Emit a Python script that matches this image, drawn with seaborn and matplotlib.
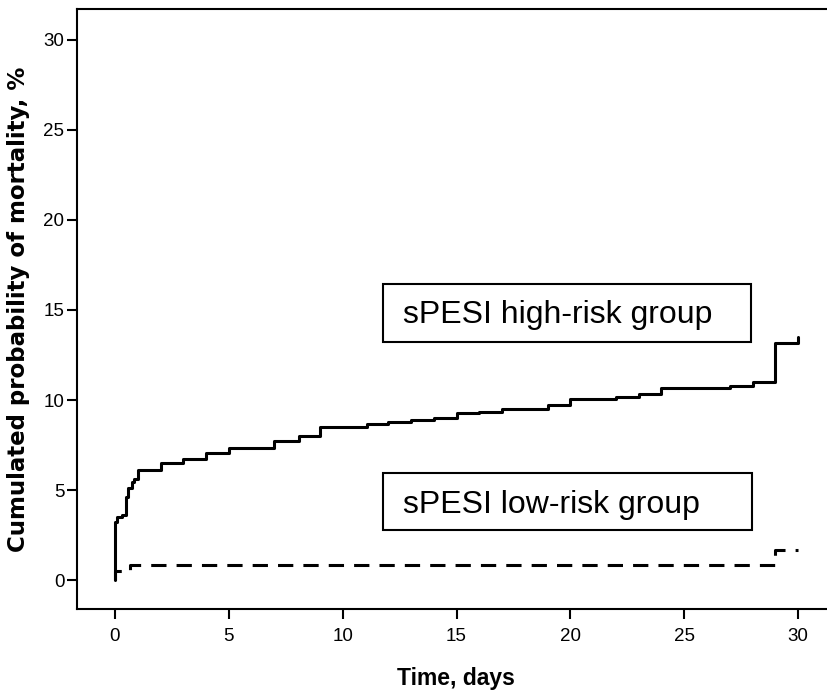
import seaborn as sns
import matplotlib.pyplot as plt
import pandas as pd

# Kaplan-Meier style cumulative mortality (%)
high_days = [0, 0, 0.07, 0.29, 0.48, 0.58, 0.73, 0.83, 1.0, 2.0, 3.0, 4.0, 5.0, 7.0, 8.1, 9.0,
             11.05, 12.0, 13.0, 14.0, 15.0, 16.0, 17.0, 19.0, 20.0, 22.0, 23.0, 24.0, 27.0,
             28.0, 29.0, 30.0, 30.0]
high_mort = [0, 3.24, 3.52, 3.61, 4.63, 5.09, 5.46, 5.61, 6.11, 6.48, 6.72, 7.07, 7.31, 7.74, 8.0,
             8.48, 8.65, 8.78, 8.9, 9.02, 9.26, 9.35, 9.5, 9.72, 10.05, 10.18, 10.33, 10.65,
             10.78, 11.02, 13.18, 13.18, 13.5]
low_days = [0, 0, 0.66, 29.0, 30.0]
low_mort = [0, 0.5, 0.83, 1.67, 1.67]

high_label = 'sPESI high-risk group'
low_label = 'sPESI low-risk group'
x_ticks = [0, 5, 10, 15, 20, 25, 30]
y_ticks = [0, 5, 10, 15, 20, 25, 30]

df = pd.concat([
    pd.DataFrame({'days': high_days, 'mort': high_mort, 'group': 'high'}),
    pd.DataFrame({'days': low_days, 'mort': low_mort, 'group': 'low'}),
])

sns.set_style('white')
plt.rcParams['font.family'] = ['Liberation Sans', 'DejaVu Sans']
plt.rcParams['text.color'] = 'black'
plt.rcParams['axes.labelcolor'] = 'black'

fig = plt.figure(figsize=(8.27, 6.93), dpi=100)
ax = fig.add_axes([0.0931, 0.1212, 0.9069, 0.8658])

sns.lineplot(data=df, x='days', y='mort', hue='group', style='group',
             palette={'high': 'black', 'low': 'black'},
             dashes={'high': '', 'low': (5, 3.3)},
             drawstyle='steps-post', sort=False, estimator=None,
             linewidth=2.2, legend=False, ax=ax)

ax.set_xlim(-1.669, 31.27)
ax.set_ylim(-1.61, 31.72)
ax.set_xticks(x_ticks)
ax.set_yticks(y_ticks)
ax.tick_params(axis='both', direction='out', length=7.5, width=1.5, color='black',
               labelsize=13.5, labelcolor='black', bottom=True, left=True)
ax.tick_params(axis='x', pad=6)
ax.tick_params(axis='y', pad=1.5)

for s in ['left', 'top', 'bottom']:
    ax.spines[s].set_visible(True)
    ax.spines[s].set_color('black')
    ax.spines[s].set_linewidth(1.5)
ax.spines['right'].set_visible(False)

ax.set_xlabel('Time, days', fontsize=16.5, fontweight='bold', va='top', color='black')
ax.xaxis.set_label_coords(0.505, -0.097)
ax.set_ylabel('Cumulated probability of mortality, %', fontsize=16.5, fontweight='bold',
              family='DejaVu Sans', color='black')
ax.yaxis.set_label_coords(-0.062, 0.5)

# group label boxes
for x0, x1, y0, y1, tx, ty, txt in [(11.77, 27.93, 13.22, 16.44, 12.65, 14.26, high_label),
                                     (11.77, 27.98, 2.78, 5.94, 12.65, 3.70, low_label)]:
    ax.add_patch(plt.Rectangle((x0, y0), x1 - x0, y1 - y0, fill=False,
                               edgecolor='black', linewidth=1.5))
    ax.text(tx, ty, txt, fontsize=23, va='baseline', ha='left', color='black')

fig.savefig('out.png', dpi=100)
